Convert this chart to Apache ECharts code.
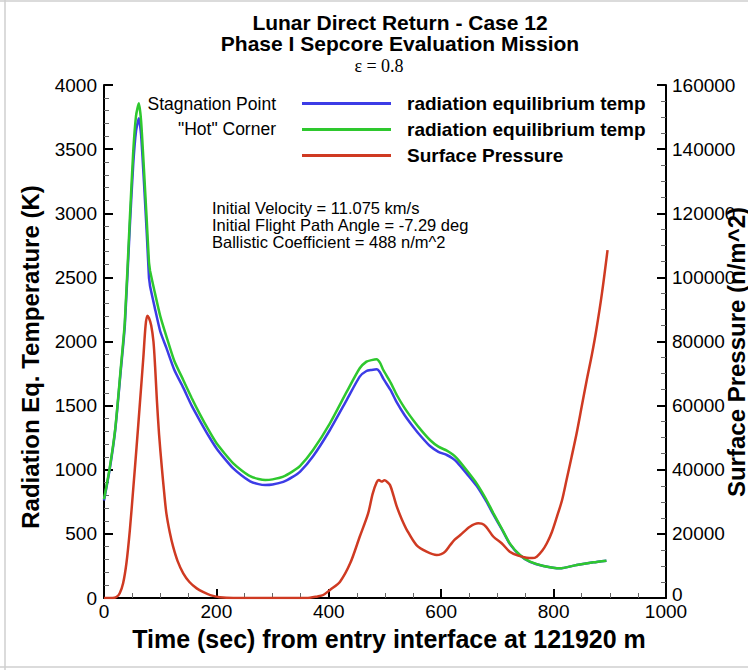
<!DOCTYPE html>
<html><head><meta charset="utf-8">
<script src="https://cdn.jsdelivr.net/npm/echarts@6/dist/echarts.min.js"></script>
<style>html,body{margin:0;padding:0;background:#fff;}#c{width:748px;height:670px;}</style>
</head><body><div id="c"></div>
<script>
// ---- data ----
const timeTemp = [0,10,20,30,37,46,52,57,62,66,71,76,80,81,82,90,100,111,125,141,156,171,186,200,215,230,245,260,275,287,300,319,335,349,372,402,432,455,467,476,485,491,497,510,521,535,550,565,580,595,610,620,628,645,663,680,693,708,722,740,758,782,811,841,871,894];
const tempStagnation = [760,1000,1310,1780,2120,2900,3380,3640,3740,3610,3250,2850,2500,2466,2430,2270,2080,1950,1780,1640,1500,1380,1265,1168,1085,1010,955,910,888,881,885,905,942,985,1105,1310,1545,1726,1770,1778,1783,1760,1710,1620,1525,1425,1336,1255,1185,1140,1115,1090,1060,972,875,755,650,535,422,333,282,250,231,257,278,291];
const tempHotCorner = [770,1010,1320,1800,2150,2960,3480,3760,3857,3720,3350,2950,2620,2583,2550,2390,2200,2040,1850,1700,1560,1430,1310,1208,1125,1050,995,950,928,920,925,946,985,1030,1154,1362,1609,1791,1843,1855,1861,1835,1778,1680,1583,1480,1388,1305,1232,1180,1149,1120,1089,998,894,770,660,540,426,335,283,250,231,257,278,291];
const timePressure = [0,15,22,28,34,40,46,52,58,64,70,74,77,80,84,88,91,94,98,103,107,111,117,123,131,141,152,165,177,189,206,230,300,360,380,390,402,420,438,455,470,478,485,489,494,499,504,509,515,521,530,539,556,574,592,600,607,616,624,634,651,666,672,680,693,708,722,737,752,762,770,780,788,797,806,815,823,832,841,850,859,868,876,886,896];
const surfacePressure = [0,0,300,1500,4600,11000,21200,34000,47200,61000,75000,85000,88000,87300,85000,80000,72000,62000,51000,40500,33000,26400,20500,16000,11500,7700,5000,3000,1800,900,250,0,0,0,500,940,2500,5100,10800,19100,26400,32500,36000,36800,36300,36700,36200,35200,32000,28500,24500,21200,16500,14450,13400,13700,14450,16500,18200,19650,22240,23300,23200,22200,19100,17000,14450,13200,12570,12450,12900,14800,17060,20600,25400,30500,36800,44000,51400,59700,68000,75800,83600,95000,108500];
const xTickLabels = [0,200,400,600,800,1000];
const tempTickLabels = [0,500,1000,1500,2000,2500,3000,3500,4000];
const pressureTickLabels = [0,20000,40000,60000,80000,100000,120000,140000,160000];
const seriesNames = ['radiation equilibrium temp','radiation equilibrium temp ','Surface Pressure'];

const pair = (xs, ys) => xs.map((x, i) => [x, ys[i]]);
const FONT = 'Liberation Sans, Arial, Helvetica, sans-serif';

const chart = echarts.init(document.getElementById('c'), null, {renderer: 'svg'});

function axisCommon(ticks, minorSplit, margin) {
  return {
    type: 'value',
    min: ticks[0], max: ticks[ticks.length - 1], interval: ticks[1] - ticks[0],
    axisLine: {show: true, onZero: false, lineStyle: {color: '#000', width: 2}},
    axisTick: {show: true, inside: true, length: 9, lineStyle: {color: '#000', width: 2}},
    minorTick: {show: true, splitNumber: minorSplit, length: 5, lineStyle: {color: '#666', width: 1}},
    axisLabel: {color: '#000', fontSize: 19, fontFamily: FONT, margin: margin, formatter: v => String(v)},
    splitLine: {show: false}
  };
}

function txt(x, y, text, size, weight, align, extra) {
  return Object.assign({type: 'text', x: x, y: y, silent: true,
    style: {text: text, fontSize: size, fontWeight: weight, fontFamily: FONT, fill: '#000',
            textAlign: align, textVerticalAlign: 'middle'}}, extra || {});
}

const rightAxis = axisCommon(pressureTickLabels, 4, 6);
rightAxis.position = 'right';
rightAxis.axisLabel.formatter = v => (v === 0 ? '{z|0}' : String(v));
rightAxis.axisLabel.rich = {z: {fontSize: 19, fontFamily: FONT, color: '#000', padding: [0, 0, 8, 0]}};

chart.setOption({
  animation: false,
  backgroundColor: '#fff',
  title: [
    {text: 'Lunar Direct Return - Case 12', left: 395, top: 7, textAlign: 'center',
     textStyle: {fontSize: 21, fontWeight: 'bold', fontFamily: FONT, color: '#000', lineHeight: 20}},
    {text: 'Phase I Sepcore Evaluation Mission', left: 395, top: 28, textAlign: 'center',
     textStyle: {fontSize: 21, fontWeight: 'bold', fontFamily: FONT, color: '#000', lineHeight: 20}},
    {text: 'ε = 0.8', left: 374, top: 52, textAlign: 'center',
     textStyle: {fontSize: 18, fontWeight: 'normal', fontFamily: 'Liberation Serif, Times New Roman, serif', color: '#000'}}
  ],
  grid: {left: 104, right: 82, top: 85, bottom: 72, containLabel: false},
  legend: {
    orient: 'vertical', left: 302, top: 94, padding: 0, itemWidth: 89, itemHeight: 3, icon: 'rect', itemGap: 7,
    selectedMode: false,
    textStyle: {fontSize: 19, fontWeight: 'bold', fontFamily: FONT, color: '#000', padding: [0, 0, 0, 11]},
    data: seriesNames
  },
  xAxis: Object.assign(axisCommon(xTickLabels, 4, 4), {position: 'bottom'}),
  yAxis: [
    Object.assign(axisCommon(tempTickLabels, 5, 7), {position: 'left'}),
    rightAxis
  ],
  series: [
    {name: seriesNames[0], type: 'line', yAxisIndex: 0, data: pair(timeTemp, tempStagnation), symbol: 'none', smooth: 0.2,
     lineStyle: {color: '#3c3ce6', width: 2.5}, itemStyle: {color: '#3c3ce6'}, z: 2},
    {name: seriesNames[1], type: 'line', yAxisIndex: 0, data: pair(timeTemp, tempHotCorner), symbol: 'none', smooth: 0.2,
     lineStyle: {color: '#2ec82e', width: 2.5}, itemStyle: {color: '#2ec82e'}, z: 3},
    {name: seriesNames[2], type: 'line', yAxisIndex: 1, data: pair(timePressure, surfacePressure), symbol: 'none', smooth: 0.3,
     lineStyle: {color: '#cf3a22', width: 2.5}, itemStyle: {color: '#cf3a22'}, z: 4}
  ],
  graphic: [
    {type: 'line', shape: {x1: 5, y1: 0, x2: 5, y2: 670}, style: {stroke: '#cfcfcf', lineWidth: 1.5}, silent: true},
    {type: 'line', shape: {x1: 0, y1: 1, x2: 748, y2: 1}, style: {stroke: '#cfcfcf', lineWidth: 1.5}, silent: true},
    {type: 'line', shape: {x1: 0, y1: 667, x2: 748, y2: 667}, style: {stroke: '#cfcfcf', lineWidth: 1.5}, silent: true},
    txt(276, 104, 'Stagnation Point', 17.5, 'normal', 'right'),
    txt(276, 129, '"Hot" Corner', 17.5, 'normal', 'right'),
    txt(212, 208, 'Initial Velocity = 11.075 km/s', 16.5, 'normal', 'left'),
    txt(212, 225, 'Initial Flight Path Angle = -7.29 deg', 16.5, 'normal', 'left'),
    txt(212, 242, 'Ballistic Coefficient = 488 n/m^2', 16.5, 'normal', 'left'),
    txt(30, 357, 'Radiation Eq. Temperature (K)', 24, 'bold', 'center', {rotation: Math.PI / 2}),
    txt(736, 352, 'Surface Pressure (n/m^2)', 24, 'bold', 'center', {rotation: Math.PI / 2}),
    txt(389, 639, 'Time (sec) from entry interface at 121920 m', 25, 'bold', 'center')
  ]
});
</script></body></html>
